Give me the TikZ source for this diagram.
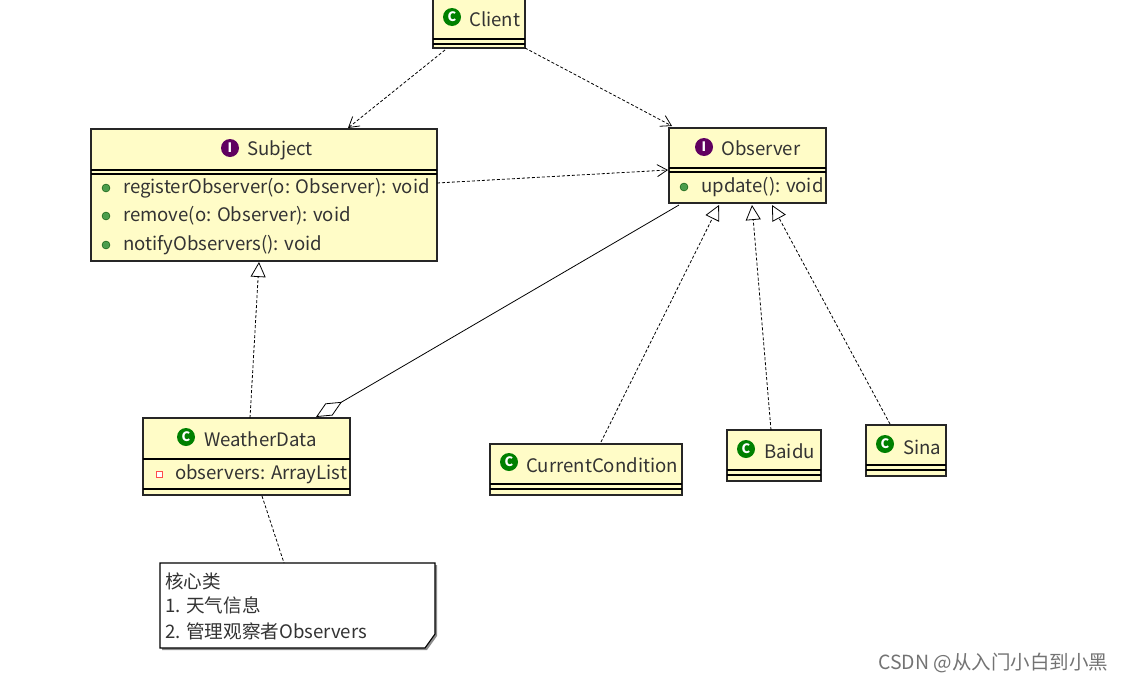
\documentclass[tikz,border=0pt]{standalone}
\usepackage{fontspec}
\setmainfont{Noto Sans CJK SC}
\usetikzlibrary{arrows.meta}
\begin{document}
\begin{tikzpicture}[x=1pt,y=-1pt,
  box/.style={draw=black!85,fill=yellow!22,line width=1.1pt},
  lbl/.style={anchor=west,inner sep=0pt,font=\fontsize{18.6}{20}\selectfont,text=black!80},
  dep/.style={densely dashed,line width=0.8pt,-{Straight Barb[length=10pt,width=12pt]}},
  real/.style={densely dashed,line width=0.8pt,-{Triangle[open,length=15pt,width=15pt]}},
  ico/.style={circle,inner sep=0pt,minimum size=18pt,text=white,font=\bfseries\fontsize{13}{13}\selectfont},
  dot/.style={circle,fill=green!45!black!70,draw=green!30!black,inner sep=0pt,minimum size=8pt}]
\useasboundingbox (0,0) rectangle (1125,683);
% Client
\draw[box] (433,-2) rectangle (525,48);
\draw[line width=1.1pt] (433,39)--(525,39) (433,44)--(525,44);
\node[ico,fill=green!50!black] (ic) at (452,17) {C};
\node[lbl] at (469,19) {Client};
% Subject
\draw[box] (91,129) rectangle (437,261);
\draw[line width=1.1pt] (91,170)--(437,170) (91,174)--(437,174);
\node[ico,fill=violet!75!black] at (230,148) {I};
\node[lbl] at (247,150) {Subject};
\node[dot] at (106,188) {}; \node[lbl] at (123,188) {registerObserver(o: Observer): void};
\node[dot] at (106,216) {}; \node[lbl] at (123,216) {remove(o: Observer): void};
\node[dot] at (106,245) {}; \node[lbl] at (123,245) {notifyObservers(): void};
% Observer
\draw[box] (669,128) rectangle (826,203);
\draw[line width=1.1pt] (669,168)--(826,168) (669,172)--(826,172);
\node[ico,fill=violet!75!black] at (704,147) {I};
\node[lbl] at (721,148) {Observer};
\node[dot] at (684,187) {}; \node[lbl] at (701,187) {update(): void};
% WeatherData
\draw[box] (143,418) rectangle (350,495);
\draw[line width=1.1pt] (143,459)--(350,459) (143,489)--(350,489);
\node[ico,fill=green!50!black] at (186,437) {C};
\node[lbl] at (204,439) {WeatherData};
\node[draw=red!70,fill=white,line width=1pt,inner sep=0pt,minimum size=6pt] at (159,474) {};
\node[lbl] at (175,474) {observers: ArrayList};
% CurrentCondition
\draw[box] (490,444) rectangle (682,495);
\draw[line width=1.1pt] (490,484)--(682,484) (490,489)--(682,489);
\node[ico,fill=green!50!black] at (509,462) {C};
\node[lbl] at (526,465) {CurrentCondition};
% Baidu
\draw[box] (727,430) rectangle (821,481);
\draw[line width=1.1pt] (727,470)--(821,470) (727,475)--(821,475);
\node[ico,fill=green!50!black] at (746,449) {C};
\node[lbl] at (764,451) {Baidu};
% Sina
\draw[box] (866,425) rectangle (946,476);
\draw[line width=1.1pt] (866,465)--(946,465) (866,470)--(946,470);
\node[ico,fill=green!50!black] at (885,444) {C};
\node[lbl] at (903,447) {Sina};
% Note
\fill[black!45] (162,565)--(437,565)--(437,636)--(427,650)--(162,650)--cycle;
\draw[line width=1.1pt,fill=white] (160,563)--(435,563)--(435,634)--(425,648)--(160,648)--cycle;
\node[lbl] at (165,581) {核心类};
\node[lbl] at (165,605) {1. 天气信息};
\node[lbl] at (165,631) {2. 管理观察者Observers};
% connectors
\coordinate (c1) at (445,50); \coordinate (s1) at (348,128);
\coordinate (c2) at (525,48); \coordinate (o1) at (672,126);
\coordinate (s2) at (437,183); \coordinate (o2) at (668,170);
\draw[dep] (c1)--(s1);
\draw[dep] (c2)--(o1);
\draw[dep] (s2)--(o2);
\coordinate (o3) at (679,205); \coordinate (w1) at (316,417);
\draw[line width=0.8pt,-{Diamond[open,length=30pt,width=14pt]}] (o3)--(w1);
\coordinate (w2) at (250,418); \coordinate (s3) at (259,262);
\draw[real] (w2)--(s3);
\coordinate (cc) at (601,442); \coordinate (o4) at (719,205);
\draw[real] (cc)--(o4);
\coordinate (bd) at (771,430); \coordinate (o5) at (752,205);
\draw[real] (bd)--(o5);
\coordinate (sn) at (890,424); \coordinate (o6) at (772,205);
\draw[real] (sn)--(o6);
\coordinate (w3) at (262,496); \coordinate (n1) at (284,563);
\draw[densely dashed,line width=0.8pt] (w3)--(n1);
\node[anchor=west,inner sep=0pt,text=black!55,font=\fontsize{19.5}{21}\selectfont] at (878,663) {CSDN @从入门小白到小黑};
\end{tikzpicture}
\end{document}
